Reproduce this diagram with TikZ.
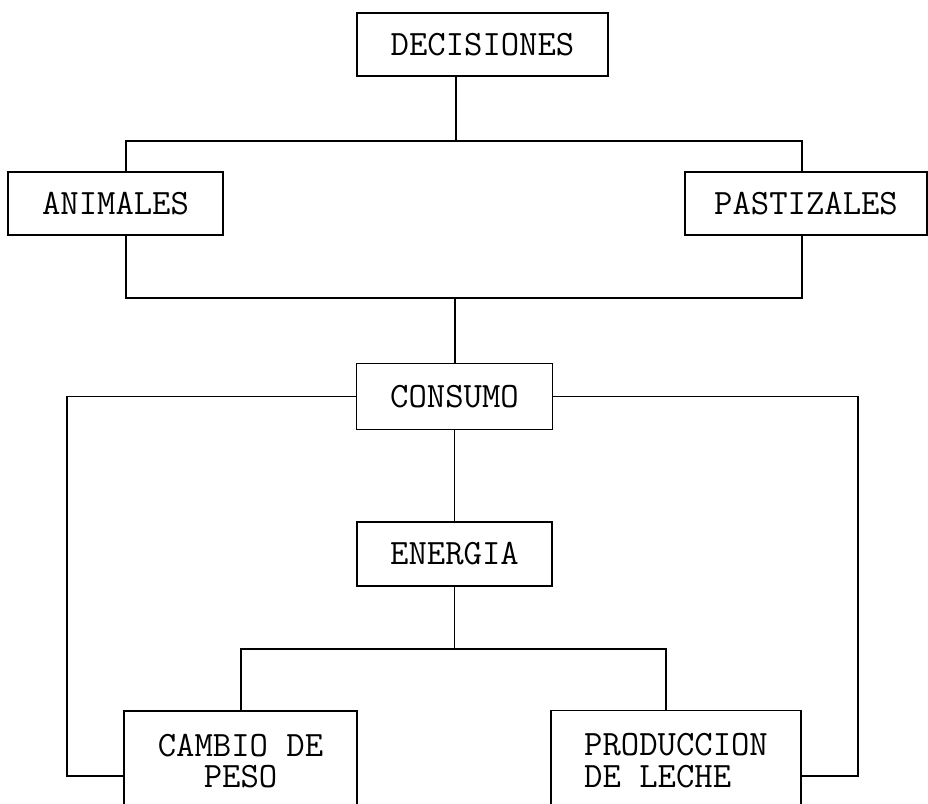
\documentclass[tikz,border=0pt]{standalone}
\usepackage{tikz}
\usetikzlibrary{positioning, calc}

\begin{document}
\begin{tikzpicture}[
  bx/.style={draw, line width=1pt, font=\ttfamily\fontsize{20.3}{18}\selectfont, minimum height=1.27cm, inner sep=0pt},
  ln/.style={line width=1pt}]
\useasboundingbox (0,0) rectangle (18.56,-16.08);
\clip (0,0) rectangle (18.56,-16.08);
\node[bx, minimum width=5.02cm] (dec) at (9.65,-0.89) {DECISIONES};
\node[bx, minimum width=4.30cm] (ani) at (2.31,-4.07) {ANIMALES};
\node[bx, minimum width=4.84cm] (pas) at (16.12,-4.07) {PASTIZALES};
\node[bx, minimum width=3.92cm, minimum height=1.32cm] (con) at (9.09,-7.93) {CONSUMO};
\node[bx, minimum width=3.90cm] (ene) at (9.09,-11.08) {ENERGIA};
\node[bx, minimum width=4.66cm, minimum height=2cm, align=center] (cam) at (4.81,-15.22) {CAMBIO DE\\PESO};
\node[bx, minimum width=5.00cm, minimum height=2cm, align=left] (pro) at (13.52,-15.21) {PRODUCCION\\DE LECHE};
% bus points
\coordinate (td) at (9.12,-2.82);
\coordinate (tl) at (2.52,-2.82);
\coordinate (tr) at (16.04,-2.82);
\coordinate (bm) at (9.10,-5.96);
\coordinate (bl) at (2.52,-5.96);
\coordinate (br) at (16.04,-5.96);
\coordinate (lb) at (1.34,-15.52);
\coordinate (rb) at (17.16,-15.52);
\coordinate (el) at (4.82,-12.98);
\coordinate (er) at (13.32,-12.98);
\draw[ln] (td |- dec.south) -- (td);
\draw[ln] (tl |- ani.north) -- (tl) -- (tr) -- (tr |- pas.north);
\draw[ln] (bl |- ani.south) -- (bl) -- (br) -- (br |- pas.south);
\draw[ln] (bm) -- (bm |- con.north);
\draw[ln] (con.west) -| (lb) -- (lb -| cam.west);
\draw[ln] (con.east) -| (rb) -- (rb -| pro.east);
\draw[ln] (con.south) -- (ene.north);
\draw[ln] (ene.south) -- (ene.south |- el);
\draw[ln] (el |- cam.north) -- (el) -- (er) -- (er |- pro.north);
\end{tikzpicture}
\end{document}
